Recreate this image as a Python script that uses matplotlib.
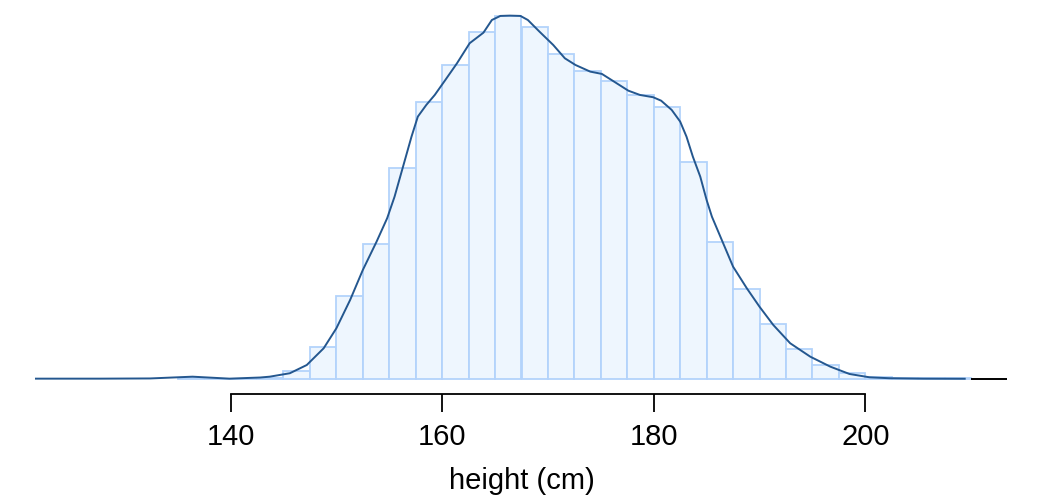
import matplotlib
matplotlib.use("Agg")
import matplotlib.pyplot as plt
import numpy as np

plt.rcParams["font.family"] = ["Liberation Sans", "DejaVu Sans"]

# histogram bins (2.5 cm wide), density per bin
bin_edges = np.arange(135.0, 210.01, 2.5)
bin_density = [
    0.0001, 0.00003, 0.00003, 0.0001, 0.00077, 0.00304, 0.00794, 0.01294,
    0.0203, 0.02664, 0.03013, 0.03336, 0.0349, 0.03384, 0.03125, 0.02958,
    0.0286, 0.02728, 0.0261, 0.02081, 0.01319, 0.00862, 0.00531, 0.00291,
    0.00137, 0.00055, 0.00019, 0.0001, 0.00005, 0.00005,
]

# kernel density estimate
kde_x = [
    121.6, 127.7, 132.4, 136.4, 139.9, 142.8, 143.7, 145.6, 147.2, 148.8,
    150.0, 151.3, 152.5, 153.8, 154.8, 155.5, 156.3, 157.1, 157.7, 158.5,
    159.3, 160.3, 161.4, 162.6, 163.9, 164.7, 165.5, 166.4, 167.4, 168.1,
    169.2, 170.5, 171.6, 172.6, 174.0, 175.1, 176.5, 177.6, 178.7, 179.95,
    180.7, 181.7, 182.5, 183.1, 183.7, 184.4, 185.0, 185.5, 185.9, 187.5,
    188.8, 190.0, 191.3, 192.9, 194.8, 196.7, 198.5, 200.4, 202.3, 205.5,
    209.4,
]
kde_y = [
    0.00003, 0.00003, 0.00005, 0.00022, 0.00003, 0.00014, 0.00022, 0.00055, 0.00134, 0.00295,
    0.00487, 0.00759, 0.01047, 0.01319, 0.01544, 0.01751, 0.02039, 0.02327, 0.0252, 0.02632,
    0.02728, 0.02872, 0.03032, 0.03225, 0.03326, 0.03448, 0.03487, 0.0349, 0.03487, 0.03448,
    0.03336, 0.03208, 0.0308, 0.03016, 0.02952, 0.0293, 0.0284, 0.02769, 0.02728, 0.02706,
    0.02673, 0.02584, 0.02472, 0.02327, 0.02135, 0.01943, 0.01719, 0.01559, 0.01463, 0.01079,
    0.00871, 0.00694, 0.00519, 0.00343, 0.00214, 0.00118, 0.00048, 0.00016, 0.00007, 0.00003,
    0.00002,
]

x_ticks = [140, 160, 180, 200]

fig = plt.figure(figsize=(10.43, 5.03), dpi=100)
ax = fig.add_axes([0, 1 - 390 / 503, 1, 390 / 503])

ax.bar(bin_edges[:-1], bin_density, width=2.5, align="edge",
       color="#eef6fe", edgecolor="#b3d3fb", linewidth=1.3)
ax.plot(kde_x, kde_y, color="#24578f", linewidth=1.4)
# short baseline at the right end
ax.plot([210.0, 213.4], [0, 0], color="black", linewidth=1.4, solid_capstyle="butt")

ax.set_xlim(118.2, 216.8)
ax.set_ylim(-0.00106, 0.0364)

for side in ["left", "right", "top"]:
    ax.spines[side].set_visible(False)
ax.spines["bottom"].set_bounds(140, 200)
ax.spines["bottom"].set_position(("outward", 3))
ax.spines["bottom"].set_linewidth(1.3)
ax.set_yticks([])
ax.set_xticks(x_ticks)
ax.tick_params(axis="x", length=13, width=1.3, labelsize=21, pad=8)
ax.set_xlabel("height (cm)", fontsize=21, labelpad=11)

fig.savefig("out.png", dpi=100)
